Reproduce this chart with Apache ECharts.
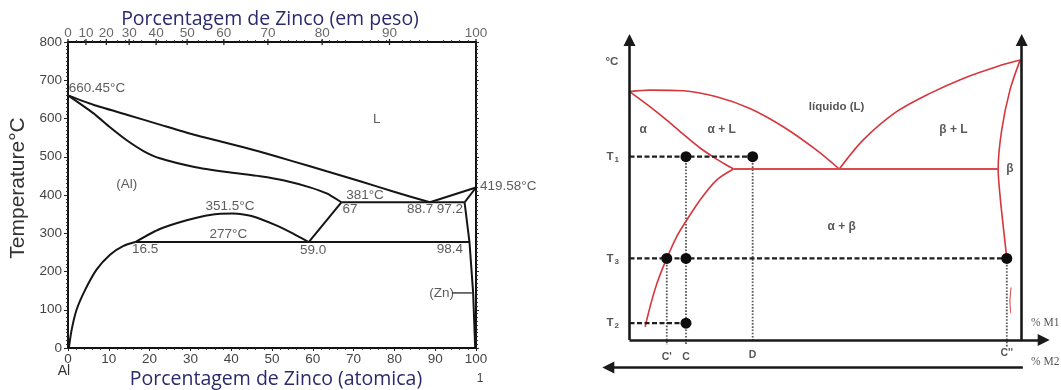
<!DOCTYPE html>
<html><head><meta charset="utf-8">
<script src="https://cdn.jsdelivr.net/npm/echarts@6/dist/echarts.min.js"></script>
<style>html,body{margin:0;padding:0;background:#fff}#c{width:1061px;height:390px}</style>
</head><body><div id="c"></div>
<script>
// ===== Left diagram: Al–Zn, x = % Zn (atomic), y = °C =====
const tempTicks = [0, 100, 200, 300, 400, 500, 600, 700, 800];
const atomicTicks = [0, 10, 20, 30, 40, 50, 60, 70, 80, 90, 100];
const topWeightLabels = [0, 10, 20, 30, 40, 50, 60, 70, 80, 90, 100];
const topWeightAtPos = [0, 4.4, 9.4, 15.0, 21.6, 29.2, 38.2, 49.0, 62.3, 78.8, 100];

const liquidusAl = [[0,660.45],[6.2,636],[14.4,610],[22.5,584],[30.7,558],[38.9,536],[47.1,513],[55.2,488],[63.4,462],[71.6,436],[79.7,409],[88.7,381]];
const solidusAl  = [[0,660.45],[6.2,614],[10.3,577],[14.4,543],[18.5,515],[22.5,496],[30.7,474],[38.9,460],[47.1,449],[53,438],[59.3,420],[63.4,404],[67,381]];
const domeGap    = [[16.5,277],[22.5,311],[29.1,334],[34.8,348],[40.5,351.5],[45.4,344],[51.2,320],[55.2,299],[59,277]];
const solvusAl   = [[0.2,0],[0.9,48],[2.1,100],[4.2,152],[7.0,205],[10.3,244],[13.6,267],[16.5,277]];
const solvusAlHi = [[59,277],[67,381]];
const iso381     = [[67,381],[97.2,381]];
const iso277     = [[16.5,277],[98.4,277]];
const liquidusZn = [[88.7,381],[100,419.58]];
const solidusZn  = [[97.2,381],[100,419.58]];
const solvusZn   = [[97.2,381],[98.4,277],[99.3,144],[99.8,0]];
const znLeader   = [[94.2,144],[99.0,144]];

const leftNotes = [
  {t:'660.45°C', x:0.2, y:680, left:true},
  {t:'L', x:75.7, y:597},
  {t:'(Al)', x:14.4, y:427},
  {t:'351.5°C', x:39.7, y:370},
  {t:'277°C', x:39.3, y:296},
  {t:'16.5', x:18.9, y:257},
  {t:'59.0', x:60.1, y:255},
  {t:'381°C', x:72.8, y:398},
  {t:'67', x:69.1, y:363},
  {t:'88.7', x:86.3, y:363},
  {t:'97.2', x:93.6, y:363},
  {t:'98.4', x:93.6, y:257},
  {t:'419.58°C', x:101, y:422, left:true},
  {t:'(Zn)', x:91.6, y:144}
];

// ===== Right diagram: schematic eutectic, x 0..100, y 0..100 =====
const liqA   = [[0,82.8],[5.2,83.3],[13.7,83.1],[22.2,81.1],[30.7,77.2],[39.2,71.1],[47.7,63.3],[53.5,57]];
const liqB   = [[53.5,57],[59.6,66.7],[68.1,76.1],[76.6,82.2],[85.1,87.2],[93.6,91.1],[99.6,93.3]];
const solA   = [[0,82.8],[5.2,77.8],[9.5,73.3],[13.7,68.6],[18,64],[21.6,60.8],[24.6,58.4],[26.5,57]];
const solvA  = [[26.5,57],[22.2,53.3],[18,46.7],[14.6,40],[12,34.4],[9.5,27.2],[7.3,20],[5.7,13.3],[4.4,6.7],[4,4.4]];
const eutLine = [[26.5,57],[94,57]];
const betaB  = [[99.6,93.3],[97,83.3],[94.9,70],[94,57],[94.5,47.8],[95.3,37.8],[96.2,27.2]];
const scribble = [[97.3,17.5],[97.0,13],[97.2,9]];

const T1 = 61.1, T3 = 27.2, T2 = 5.6;
const xC = 14.4, xCp = 9.5, xD = 31.4, xCpp = 96.2;
const hLines = [[[0,T1],[xD,T1]], [[0,T3],[xCpp,T3]], [[0,T2],[xC,T2]]];
const vLines = [[[xC,T1],[xC,-1.7]], [[xD,T1],[xD,0]], [[xCp,T3],[xCp,-1.7]], [[xCpp,T3],[xCpp,-2.2]]];
const dots = [[xC,T1],[xD,T1],[xCp,T3],[xC,T3],[xCpp,T3],[xC,T2]];
const arrowAxes = [
  [[0,0],[0,100]],
  [[100,0],[100,100]],
  [[0,0],[105.6,0]],
  [[100.3,-9.2],[-5.4,-9.2]]
];
const rightNotes = [
  {t:'°C', x:-4.5, y:92.8, k:'b'},
  {t:'T{s|1}', x:-4.3, y:T1, k:'b'},
  {t:'T{s|3}', x:-4.3, y:T3, k:'b'},
  {t:'T{s|2}', x:-4.3, y:T2, k:'b'},
  {t:'α', x:3.5, y:70.2, k:'g'},
  {t:'α + L', x:23.5, y:70.2, k:'g'},
  {t:'líquido (L)', x:52.8, y:77.8, k:'b'},
  {t:'β + L', x:82.6, y:70, k:'g'},
  {t:'β', x:97.0, y:57.2, k:'g'},
  {t:'α + β', x:54.1, y:37.8, k:'g'},
  {t:"C'", x:xCp, y:-5.6, k:'c'},
  {t:'C', x:xC, y:-5.6, k:'c'},
  {t:'D', x:xD, y:-5.1, k:'c'},
  {t:"C''", x:xCpp, y:-4.4, k:'c'},
  {t:'% M1', x:102.4, y:5.6, k:'m', left:true},
  {t:'% M2', x:102.4, y:-7.3, k:'m', left:true}
];

const SANS = '"Liberation Sans", Arial, sans-serif';
const SERIF = '"Liberation Serif", "Times New Roman", serif';

function curve(data, gi, opts) {
  opts = opts || {};
  return {
    type: 'line', data: data, xAxisIndex: gi === 0 ? 0 : 2, yAxisIndex: gi === 0 ? 0 : 2,
    symbol: 'none', showSymbol: false, clip: false, silent: true, animation: false,
    smooth: opts.smooth || false,
    lineStyle: {color: opts.color || '#151515', width: opts.width || 2, type: opts.type || 'solid'},
    z: opts.z || 3
  };
}

const series = [];
[liquidusAl, solidusAl, domeGap, solvusAl].forEach(d => series.push(curve(d, 0, {smooth: 0.2})));
[solvusAlHi, iso381, iso277, liquidusZn, solidusZn, solvusZn].forEach(d => series.push(curve(d, 0)));
series.push(curve(znLeader, 0, {width: 1.2}));
series.push({
  type: 'scatter', xAxisIndex: 0, yAxisIndex: 0, clip: false, silent: true, animation: false,
  symbol: 'rect', symbolSize: [1.3, 6], itemStyle: {color: '#222', opacity: 1},
  data: topWeightAtPos.map(p => [p, 800])
});
series.push({
  type: 'scatter', xAxisIndex: 0, yAxisIndex: 0, clip: false, silent: true, animation: false,
  symbolSize: 0,
  data: topWeightAtPos.map((p, i) => ({value: [p, 800], name: String(topWeightLabels[i])})),
  label: {show: true, position: 'top', distance: 2, formatter: p => p.name,
          fontFamily: SANS, fontSize: 13.5, color: '#444'}
});
series.push({
  type: 'scatter', xAxisIndex: 0, yAxisIndex: 0, clip: false, silent: true, animation: false,
  symbolSize: 0,
  data: leftNotes.map(n => ({value: [n.x, n.y], name: n.t,
    label: {position: n.left ? 'right' : 'inside', distance: 0}})),
  label: {show: true, formatter: p => p.name, fontFamily: SANS, fontSize: 13.5, color: '#333'}
});

const RED = '#d6363c';
[liqA, liqB, solA, solvA, betaB].forEach(d => series.push(curve(d, 1, {smooth: 0.3, color: RED, width: 1.6})));
series.push(curve(eutLine, 1, {color: '#e04a4f', width: 2.2}));
series.push(curve(scribble, 1, {color: RED, width: 1, smooth: 0.3}));
hLines.forEach(d => series.push(curve(d, 1, {color: '#1e1e1e', width: 2.3, type: [5, 2.5]})));
vLines.forEach(d => series.push(curve(d, 1, {color: '#555', width: 1.8, type: [1.6, 1.6], z: 2})));
series.push({
  type: 'lines', coordinateSystem: 'cartesian2d', xAxisIndex: 2, yAxisIndex: 2,
  clip: false, silent: true, animation: false, polyline: false,
  symbol: ['none', 'triangle'], symbolSize: 12,
  lineStyle: {color: '#1a1a1a', width: 2.6, opacity: 1, curveness: 0},
  data: arrowAxes.map(c => ({coords: c})), z: 4
});
series.push({
  type: 'scatter', xAxisIndex: 2, yAxisIndex: 2, clip: false, silent: true, animation: false,
  symbol: 'circle', symbolSize: 11, itemStyle: {color: '#0d0d0d', opacity: 1}, data: dots, z: 5
});
const styleK = {
  b: {fontFamily: SANS, fontWeight: 'bold', fontSize: 11.5, color: '#2a2a2a'},
  g: {fontFamily: SANS, fontWeight: 'bold', fontSize: 12, color: '#2f2f2f'},
  c: {fontFamily: SANS, fontWeight: 'bold', fontSize: 10.5, color: '#2a2a2a'},
  m: {fontFamily: SERIF, fontSize: 11.5, color: '#2a2a2a'}
};
series.push({
  type: 'scatter', xAxisIndex: 2, yAxisIndex: 2, clip: false, silent: true, animation: false,
  symbolSize: 0,
  data: rightNotes.map(n => ({value: [n.x, n.y], name: n.t,
    label: Object.assign({position: n.left ? 'right' : 'inside', distance: 0,
      rich: {s: {fontFamily: SANS, fontWeight: 'bold', fontSize: 8, color: '#2a2a2a', padding: [6, 0, 0, 1]}}}, styleK[n.k])})),
  label: {show: true, formatter: p => p.name}
});

const axisLineL = {show: true, onZero: false, lineStyle: {color: '#111', width: 2}};
const option = {
  animation: false,
  backgroundColor: '#fff',
  grid: [
    {left: 68, top: 42, width: 408, height: 306},
    {left: 629.5, top: 40, width: 392.2, height: 300}
  ],
  xAxis: [
    {gridIndex: 0, type: 'value', position: 'bottom', min: 0, max: 100, interval: 10,
     axisLine: axisLineL, splitLine: {show: false},
     axisTick: {show: true, length: 3, lineStyle: {color: '#222', width: 1}},
     minorTick: {show: true, splitNumber: 5, length: 2, lineStyle: {color: '#333'}},
     axisLabel: {margin: 4, fontFamily: SANS, fontSize: 13.5, color: '#444',
       formatter: v => atomicTicks.includes(v) ? String(v) : ''}},
    {gridIndex: 0, type: 'value', position: 'top', min: 0, max: 100, interval: 10,
     axisLine: axisLineL, splitLine: {show: false}, axisTick: {show: false}, axisLabel: {show: false},
     minorTick: {show: true, splitNumber: 5, length: 2, lineStyle: {color: '#333'}}},
    {gridIndex: 1, type: 'value', min: 0, max: 100, show: false}
  ],
  yAxis: [
    {gridIndex: 0, type: 'value', position: 'left', min: 0, max: 800, interval: 100,
     axisLine: axisLineL, splitLine: {show: false},
     axisTick: {show: true, length: 4, lineStyle: {color: '#222'}},
     minorTick: {show: true, splitNumber: 10, length: 2, lineStyle: {color: '#333'}},
     axisLabel: {margin: 6, fontFamily: SANS, fontSize: 13.5, color: '#444',
       formatter: v => tempTicks.includes(v) ? String(v) : ''}},
    {gridIndex: 0, type: 'value', position: 'right', min: 0, max: 800, interval: 100,
     axisLine: axisLineL, splitLine: {show: false}, axisLabel: {show: false},
     axisTick: {show: true, length: 3, lineStyle: {color: '#222'}},
     minorTick: {show: true, splitNumber: 10, length: 2, lineStyle: {color: '#333'}}},
    {gridIndex: 1, type: 'value', min: 0, max: 100, show: false}
  ],
  graphic: [
    {type: 'text', x: 270, y: 19, silent: true,
     style: {text: 'Porcentagem de Zinco (em peso)', font: '19.5px "Open Sans"', fill: '#2b2a6c',
             align: 'center', verticalAlign: 'middle', textAlign: 'center', textVerticalAlign: 'middle'}},
    {type: 'text', x: 276, y: 379, silent: true,
     style: {text: 'Porcentagem de Zinco (atomica)', font: '19.5px "Open Sans"', fill: '#2b2a6c',
             align: 'center', verticalAlign: 'middle', textAlign: 'center', textVerticalAlign: 'middle'}},
    {type: 'text', x: 18, y: 188, rotation: Math.PI / 2, silent: true,
     style: {text: 'Temperature°C', font: '21px "Liberation Sans"', fill: '#333',
             align: 'center', verticalAlign: 'middle', textAlign: 'center', textVerticalAlign: 'middle'}},
    {type: 'text', x: 64, y: 371, silent: true,
     style: {text: 'Al', font: '14px "Liberation Sans"', fill: '#333',
             align: 'center', verticalAlign: 'middle', textAlign: 'center', textVerticalAlign: 'middle'}},
    {type: 'text', x: 480, y: 379, silent: true,
     style: {text: '1', font: '12px "Liberation Sans"', fill: '#444',
             align: 'center', verticalAlign: 'middle', textAlign: 'center', textVerticalAlign: 'middle'}}
  ],
  series: series
};
const chart = echarts.init(document.getElementById('c'));
chart.setOption(option);
</script></body></html>
